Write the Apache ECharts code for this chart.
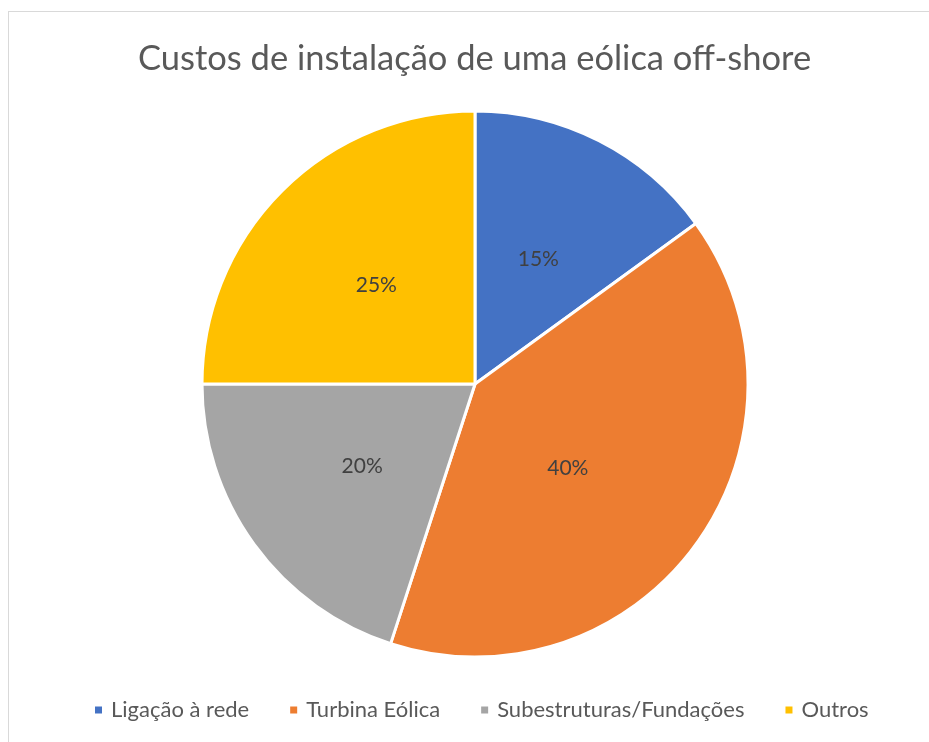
<!DOCTYPE html>
<html>
<head>
<meta charset="utf-8">
<script src="https://cdn.jsdelivr.net/npm/echarts@6/dist/echarts.min.js"></script>
<style>
  html, body { margin: 0; padding: 0; background: #fff; overflow: hidden; }
  .frame {
    position: absolute; left: 8px; top: 11px; width: 1000px; height: 800px;
    border: 1px solid #d9d9d9; box-sizing: border-box;
  }
  #chart { position: absolute; left: 0; top: 0; width: 929px; height: 742px; }
</style>
</head>
<body>
<div class="frame"></div>
<div id="chart"></div>
<script>
// data
const categories = ['Ligação à rede', 'Turbina Eólica', 'Subestruturas/Fundações', 'Outros'];
const shares = [15, 40, 20, 25];
const colors = ['#4472C4', '#ED7D31', '#A5A5A5', '#FFC000'];

const font = 'Lato, "Open Sans", sans-serif';
const chart = echarts.init(document.getElementById('chart'), null, { renderer: 'canvas' });

chart.setOption({
  animation: false,
  color: colors,
  title: {
    text: 'Custos de instalação de uma eólica off-shore',
    left: 133,
    top: 36,
    textStyle: { fontFamily: font, fontSize: 34.5, fontWeight: 'normal', color: '#595959' }
  },
  legend: {
    bottom: 16,
    left: 88,
    icon: 'rect',
    itemWidth: 9,
    itemHeight: 9,
    itemGap: 39,
    textStyle: { fontFamily: font, fontSize: 22, color: '#595959', padding: [0, 0, 0, 3] },
    data: categories
  },
  series: [
    {
      type: 'pie',
      center: [475, 384],
      radius: [0, 273],
      startAngle: 90,
      clockwise: true,
      itemStyle: { borderColor: '#fff', borderWidth: 3 },
      label: {
        show: true,
        position: 'inside',
        formatter: '{c}%',
        fontFamily: font,
        fontSize: 21,
        color: '#404040'
      },
      labelLine: { show: false },
      emphasis: { disabled: true },
      data: categories.map((name, i) => ({
        name,
        value: shares[i],
        // Excel pulls the big slice's label a bit toward the centre
        label: i === 1 ? { offset: [-20, 2] } : undefined
      }))
    }
  ]
});
</script>
</body>
</html>
